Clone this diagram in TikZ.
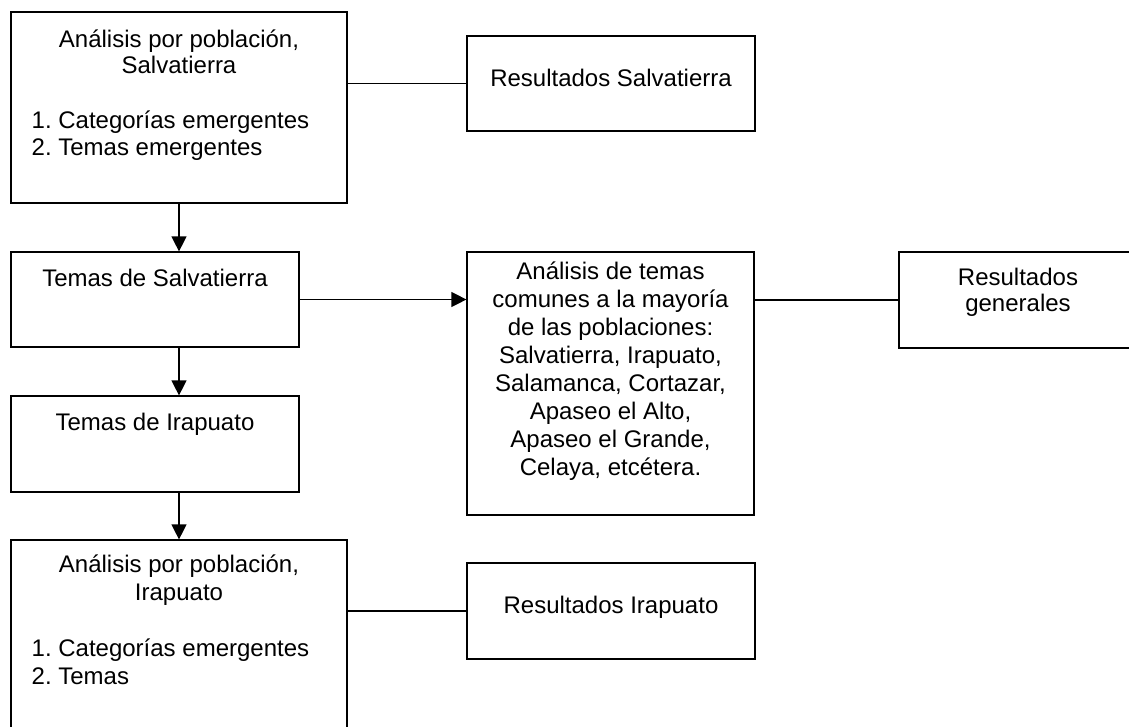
\documentclass[tikz,border=0pt]{standalone}
\usepackage{fontspec}
\setmainfont{Liberation Sans}
\usetikzlibrary{arrows.meta}
\frenchspacing
\begin{document}
\begin{tikzpicture}[x=1pt,y=-1pt,
  box/.style={draw=black, line width=1.2pt, rectangle, inner sep=0pt, fill=none},
  txt/.style={inner sep=0pt, anchor=base, font=\fontsize{24}{27.3}\selectfont},
  lnk/.style={draw=black, line width=1.2pt},
  arr/.style={lnk, -{Triangle[length=15pt,width=15pt]}}]
\clip (0,0) rectangle (1129,726);
\fill[white] (0,0) rectangle (1129,726);
% boxes
\node[box, minimum width=336pt, minimum height=191pt] (b1) at (179,107.5) {};
\node[box, minimum width=288pt, minimum height=95pt] (rs) at (611,83.5) {};
\node[box, minimum width=288pt, minimum height=95pt] (ts) at (155,299.5) {};
\node[box, minimum width=287pt, minimum height=263pt] (an) at (610.5,383.5) {};
\node[box, minimum width=238pt, minimum height=96pt] (rg) at (1018,300) {};
\node[box, minimum width=288pt, minimum height=96pt] (ti) at (155,444) {};
\node[box, minimum width=336pt, minimum height=196pt] (b2) at (179,638) {};
\node[box, minimum width=288pt, minimum height=96pt] (ri) at (611,611) {};
% texts (base anchor = baseline of the last line)
\node[txt, align=center, font=\fontsize{24}{26}\selectfont] (b1h) at (179,73.3) {Análisis por población,\\Salvatierra};
\node[txt, anchor=base west, align=left, font=\fontsize{24}{26.7}\selectfont] (b1l) at (31.5,155) {1. Categorías emergentes\\2. Temas emergentes};
\node[txt] (rst) at (611,86) {Resultados Salvatierra};
\node[txt] (tst) at (155,286) {Temas de Salvatierra};
\node[txt, align=center, font=\fontsize{24}{27.9}\selectfont] (ant) at (610.5,475) {Análisis de temas\\comunes a la mayoría\\de las poblaciones:\\Salvatierra, Irapuato,\\Salamanca, Cortazar,\\Apaseo el Alto,\\Apaseo el Grande,\\Celaya, etcétera.};
\node[txt, align=center, font=\fontsize{24}{26.7}\selectfont] (rgt) at (1018,311.7) {Resultados\\generales};
\node[txt] (tit) at (155,430) {Temas de Irapuato};
\node[txt, align=center] (b2h) at (179,600) {Análisis por población,\\Irapuato};
\node[txt, anchor=base west, align=left, font=\fontsize{24}{28}\selectfont] (b2l) at (31.5,684) {1. Categorías emergentes\\2. Temas};
\node[txt] (rit) at (611,613.3) {Resultados Irapuato};
% connectors
\draw[lnk] (b1.east |- rs.west) -- (rs.west);
\draw[arr] (b1.south) -- (b1.south |- ts.north);
\draw[arr] (ts.east) -- (ts.east -| an.west);
\draw[lnk] (an.east |- rg.west) -- (rg.west);
\draw[arr] (b1.south |- ts.south) -- (b1.south |- ti.north);
\draw[arr] (b1.south |- ti.south) -- (b2.north);
\draw[lnk] (b2.east |- ri.west) -- (ri.west);
\end{tikzpicture}
\end{document}
